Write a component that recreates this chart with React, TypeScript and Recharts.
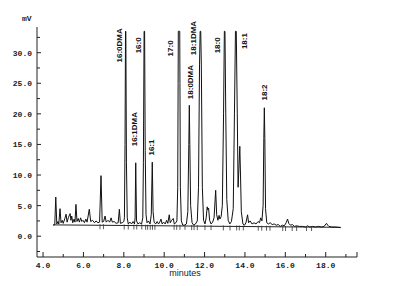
import { ComposedChart, Line, Scatter, XAxis, YAxis } from 'recharts';

// retention time (min) / detector signal (mV)
const traceTime = [
  4.5, 4.58, 4.63, 4.68, 4.74, 4.78, 4.84, 4.89, 4.95, 5.0, 5.08, 5.14, 5.19, 5.26, 5.34, 5.38, 5.42, 5.47,
  5.54, 5.58, 5.63, 5.68, 5.74, 5.8, 5.86, 5.92, 5.98, 6.05, 6.12, 6.18, 6.29, 6.36, 6.45, 6.55, 6.62, 6.72,
  6.8, 6.87, 6.93, 7.0, 7.07, 7.13, 7.22, 7.3, 7.37, 7.43, 7.52, 7.62, 7.72, 7.78, 7.83, 7.92, 8.0,
  8.03, 8.06, 8.085, 8.1, 8.13, 8.17, 8.22, 8.3, 8.38, 8.46, 8.53,
  8.56, 8.59, 8.63, 8.7, 8.78, 8.88, 8.94,
  8.97, 9.005, 9.03, 9.06, 9.1, 9.15, 9.22, 9.3, 9.36, 9.41, 9.45, 9.5, 9.58, 9.65, 9.72, 9.78, 9.84, 9.9,
  9.97, 10.05, 10.12, 10.18, 10.25, 10.3, 10.37, 10.45, 10.5, 10.58,
  10.63, 10.67, 10.69, 10.7, 10.77, 10.78, 10.8, 10.85, 10.92, 11.0,
  11.1, 11.17, 11.22, 11.245, 11.27, 11.31, 11.38, 11.46, 11.55,
  11.64, 11.7, 11.75, 11.78, 11.81, 11.84, 11.89, 11.95, 12.02,
  12.08, 12.13, 12.16, 12.2, 12.25, 12.32, 12.4, 12.47, 12.55, 12.6, 12.66, 12.72, 12.76, 12.82,
  12.88, 12.94, 12.98, 13.01, 13.05, 13.1, 13.17, 13.25, 13.33,
  13.42, 13.48, 13.53, 13.57, 13.62, 13.66, 13.7, 13.745, 13.78, 13.82, 13.9, 13.98, 14.05, 14.13, 14.18,
  14.26, 14.35, 14.45, 14.55, 14.65, 14.72, 14.78, 14.84,
  14.9, 14.935, 14.96, 14.985, 15.02, 15.08, 15.16, 15.25, 15.35, 15.45, 15.55, 15.65, 15.75, 15.85, 15.95,
  16.04, 16.11, 16.17, 16.25, 16.35, 16.45, 16.55, 16.7, 16.85, 17.0, 17.1, 17.2, 17.35, 17.5, 17.65, 17.8,
  17.92, 18.04, 18.1, 18.16, 18.3, 18.5, 18.74,
];
const traceMv = [
  1.8, 1.9, 6.4, 2.0, 2.4, 2.0, 4.5, 2.2, 2.6, 2.1, 2.9, 3.6, 2.3, 3.1, 3.7, 2.6, 3.3, 2.2,
  2.8, 2.3, 5.2, 2.4, 2.9, 2.3, 3.0, 2.4, 2.6, 2.2, 2.8, 2.3, 4.4, 2.4, 2.6, 2.2, 2.5, 2.2,
  2.3, 9.9, 2.3, 2.4, 3.3, 2.3, 2.6, 2.3, 3.0, 2.3, 2.4, 2.1, 2.2, 4.4, 2.1, 2.2, 2.4,
  3.0, 15, 33.5, 33.5, 12, 3.0, 2.0, 2.3, 2.0, 2.4, 2.0,
  3.0, 12.0, 2.5, 2.0, 2.2, 2.0, 3.0,
  12, 33.5, 33.5, 14, 3.5, 2.2, 2.5, 2.0, 3.5, 12.1, 4.0, 2.3, 2.0, 2.4, 2.0, 2.3, 2.8, 2.0,
  2.3, 2.0, 2.6, 2.1, 3.5, 2.2, 2.6, 2.9, 2.0, 2.2,
  2.5, 8, 25, 33.5, 33.5, 25, 8, 2.5, 1.8, 1.8,
  2.0, 4, 15, 21.4, 15, 5, 2.2, 1.8, 2.0,
  2.5, 8, 28, 33.5, 33.5, 28, 8, 2.6, 2.0,
  3.0, 4.8, 4.3, 4.6, 2.6, 2.0, 2.3, 3.0, 7.5, 3.5, 2.6, 3.4, 2.8, 3.2,
  5, 20, 33.5, 33.5, 20, 6, 2.6, 2.0, 2.4,
  4.5, 20, 33.5, 33.5, 20, 8, 11, 14.7, 10, 4, 2.0, 1.8, 2.2, 3.5, 2.2,
  2.5, 2.0, 2.2, 2.0, 2.4, 2.2, 3.0, 2.5,
  5, 16, 21.0, 16, 4.5, 2.2, 2.0, 2.2, 1.9, 2.0, 1.8, 1.9, 1.6, 1.8, 1.7,
  2.2, 2.8, 2.1, 1.8, 1.9, 1.6, 1.7, 1.6, 1.6, 1.5, 1.7, 1.5, 1.6, 1.5, 1.6, 1.5,
  1.6, 2.1, 1.8, 1.6, 1.5, 1.5, 1.4,
];

// integration baseline
const baseTime = [4.5, 18.74];
const baseMv = [1.85, 1.45];

// integration start/stop marks
const markTime = [
  6.82, 6.99, 8.02, 8.22, 8.5, 8.64, 8.89, 9.08, 9.18, 9.31, 9.42, 9.54, 10.49, 10.62, 10.78, 11.03, 11.36,
  11.48, 11.64, 12.02, 12.32, 12.93, 13.26, 13.59, 13.72, 13.92, 14.66, 14.83, 15.07, 15.24, 15.87, 16.01,
  16.34, 16.56, 17.05, 17.3,
];
const markMv = [
  1.8, 1.8, 1.75, 1.75, 1.75, 1.75, 1.75, 1.7, 1.7, 1.7, 1.7, 1.7, 1.7, 1.7, 1.7, 1.7, 1.65,
  1.65, 1.65, 1.65, 1.65, 1.6, 1.6, 1.6, 1.6, 1.6, 1.55, 1.55, 1.55, 1.55, 1.5, 1.5,
  1.5, 1.5, 1.5, 1.5,
];

// peak names and where they are written
const peakNames = ['16:0DMA', '16:0', '16:1DMA', '16:1', '17:0', '18:0DMA', '18:1DMA', '18:0', '18:1', '18:2'];
const peakLabelTime = [7.81, 8.75, 8.55, 9.35, 10.29, 11.28, 11.43, 12.66, 14.0, 14.99];
const peakLabelMv = [31.2, 31.2, 17.5, 14.5, 30.7, 25.2, 32.4, 31.2, 31.9, 23.5];

const xTicks = [4, 5, 6, 7, 8, 9, 10, 11, 12, 13, 14, 15, 16, 17, 18, 19, 19.55];
const yTicks = [-2.5, 0, 2.5, 5, 7.5, 10, 12.5, 15, 17.5, 20, 22.5, 25, 27.5, 30, 32.5];

const trace = traceTime.map((t, i) => ({ t, v: traceMv[i] }));
const baseline = baseTime.map((t, i) => ({ t, v: baseMv[i] }));
const marks = markTime.map((t, i) => ({ t, v: markMv[i] }));
const labels = peakNames.map((name, i) => ({ t: peakLabelTime[i], v: peakLabelMv[i], name }));

const MONO = '"Liberation Mono", "DejaVu Sans Mono", monospace';
const SANS = '"Liberation Sans", Arial, sans-serif';

const YTick = (props: any) => {
  const { x, y, payload } = props;
  const major = Math.abs(payload.value % 5) < 1e-6;
  return (
    <g>
      <line x1={x} x2={x + (major ? 4 : 3)} y1={y} y2={y} stroke="#222" />
      {major && (
        <text x={x - 5} y={y + 3} textAnchor="end" fontFamily={MONO} fontSize={8} fontWeight="bold" fill="#222">
          {payload.value.toFixed(1)}
        </text>
      )}
    </g>
  );
};

const XTick = (props: any) => {
  const { x, y, payload } = props;
  const v = payload.value;
  const major = Number.isInteger(v) && v % 2 === 0;
  return (
    <g>
      <line x1={x} x2={x} y1={y} y2={y - (major || !Number.isInteger(v) ? 5 : 3)} stroke="#222" />
      {major && (
        <text x={x} y={y + 11} textAnchor="middle" fontFamily={MONO} fontSize={8} fontWeight="bold" fill="#222">
          {v.toFixed(1)}
        </text>
      )}
    </g>
  );
};

const Mark = (props: any) => {
  const { cx, cy } = props;
  return <line x1={cx} x2={cx} y1={cy - 1} y2={cy + 4} stroke="#333" strokeWidth={0.8} />;
};

const PeakLabel = (props: any) => {
  const { cx, cy, payload } = props;
  return (
    <text
      x={cx}
      y={cy}
      transform={`rotate(-90 ${cx} ${cy})`}
      textAnchor="middle"
      dominantBaseline="central"
      fontFamily={SANS}
      fontSize={8}
      fontWeight="bold"
      fill="#111"
    >
      {payload.name}
    </text>
  );
};

export default function App() {
  return (
    <div style={{ position: 'absolute', left: 0, top: 0, width: 394, height: 286, background: '#fff' }}>
      <ComposedChart width={394} height={286} margin={{ top: 27, right: 37, bottom: 0, left: 0 }}>
        <XAxis
          dataKey="t"
          type="number"
          domain={[3.7, 19.55]}
          ticks={xTicks}
          interval={0}
          height={29}
          tickSize={0}
          tickMargin={0}
          tickLine={false}
          axisLine={{ stroke: '#222' }}
          tick={<XTick />}
        />
        <YAxis
          type="number"
          domain={[-3.4, 34.2]}
          ticks={yTicks}
          interval={0}
          width={37}
          tickSize={0}
          tickMargin={0}
          tickLine={false}
          axisLine={{ stroke: '#222' }}
          tick={<YTick />}
        />
        <Line data={baseline} dataKey="v" stroke="#222" strokeWidth={1} dot={false} isAnimationActive={false} />
        <Line
          data={trace}
          dataKey="v"
          stroke="#111"
          strokeWidth={1}
          strokeLinejoin="round"
          dot={false}
          isAnimationActive={false}
        />
        <Scatter data={marks} dataKey="v" shape={<Mark />} isAnimationActive={false} />
        <Scatter data={labels} dataKey="v" shape={<PeakLabel />} isAnimationActive={false} />
      </ComposedChart>
      <div
        style={{
          position: 'absolute',
          left: 22,
          top: 14,
          fontFamily: MONO,
          fontSize: 8,
          fontWeight: 'bold',
          color: '#222',
          lineHeight: '10px',
        }}
      >
        mV
      </div>
      <div
        style={{
          position: 'absolute',
          left: 165,
          top: 268,
          width: 40,
          textAlign: 'center',
          fontFamily: SANS,
          fontSize: 9,
          color: '#222',
          lineHeight: '11px',
        }}
      >
        minutes
      </div>
    </div>
  );
}
